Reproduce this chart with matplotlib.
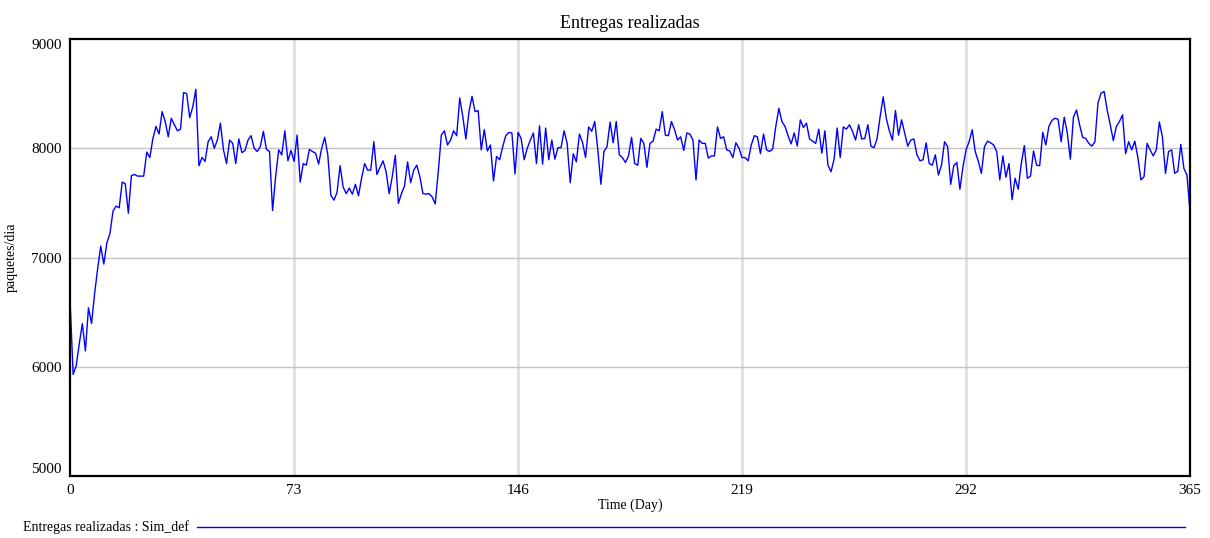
import numpy as np
import matplotlib.pyplot as plt
from matplotlib.lines import Line2D

plt.rcParams['font.family'] = ['Liberation Serif', 'DejaVu Serif']

# Entregas realizadas (paquetes/dia), one value per day
seg1 = [6610, 5930, 6010, 6210, 6395, 6145, 6540, 6395, 6670, 6900, 7105, 6940,
        7135, 7220, 7425, 7470, 7455, 7690, 7675, 7405, 7750, 7760, 7745, 7745,
        7745, 7965, 7915, 8090, 8200, 8130, 8335, 8245, 8105, 8275, 8215, 8160,
        8175, 8510, 8500, 8280, 8380, 8540, 7840, 7915, 7880, 8060]
seg2 = [8105, 8000, 8075, 8230, 7985, 7860, 8075, 8045, 7860, 8085, 7960, 7980,
        8075, 8115, 8000, 7970, 8015, 8155, 7990, 7970, 7430, 7740, 7985, 7940,
        8160, 7885, 7980, 7880, 8120, 7690, 7860, 7845, 7990, 7970, 7955, 7855,
        8000, 8100, 7940, 7570, 7525, 7595, 7840, 7645, 7585, 7635]
seg3 = [7580, 7670, 7565, 7725, 7860, 7800, 7800, 8060, 7760, 7825, 7885, 7785,
        7585, 7740, 7935, 7495, 7585, 7655, 7875, 7685, 7800, 7845, 7740, 7585,
        7580, 7585, 7555, 7490, 7785, 8120, 8160, 8030, 8075, 8160, 8115, 8460,
        8290, 8085, 8335, 8475, 8335, 8345, 7985, 8170, 7975]
seg4 = [8030, 7700, 7925, 7895, 8015, 8115, 8145, 8140, 7765, 8145, 8090, 7895,
        8000, 8075, 8140, 7860, 8205, 7855, 8185, 7895, 8075, 7900, 8005, 8005,
        8160, 8045, 7685, 7950, 7875, 8130, 8055, 7915, 8195, 8155, 8245, 7985,
        7670, 7970, 8015, 8240, 8050, 8245, 7940, 7915, 7870, 7930, 8100]
seg5 = [7860, 7845, 8090, 8045, 7825, 8045, 8065, 8175, 8160, 8335, 8120, 8115,
        8245, 8170, 8075, 8105, 7980, 8140, 8130, 8075, 7710, 8075, 8045, 8045,
        7910, 7930, 7930, 8195, 8090, 8105, 7985, 7975, 7915, 8050, 8000, 7915,
        7915, 7885, 8030, 8115, 8105, 7950, 8130, 7985, 7970]
seg6 = [7995, 8200, 8365, 8245, 8200, 8115, 8040, 8140, 8020, 8260, 8190, 8230,
        8085, 8065, 8045, 8175, 7955, 8160, 7845, 7785, 7900, 8185, 7915, 8195,
        8175, 8215, 8155, 8075, 8215, 8085, 8090, 8215, 8020, 8005, 8085, 8290,
        8470, 8275, 8160, 8075, 8345, 8120, 8260, 8140, 8020]
seg7 = [8075, 8085, 7940, 7885, 7895, 8050, 7860, 7845, 7940, 7755, 7845, 8060,
        8015, 7670, 7840, 7870, 7625, 7830, 7985, 8060, 8170, 7970, 7880, 7770,
        8015, 8065, 8050, 8030, 7970, 7710, 7930, 7735, 7860, 7530, 7725, 7625,
        7860, 8025, 7725, 7745, 7975, 7845, 7840, 8145, 8030, 8200]
seg8 = [8255, 8275, 8265, 8060, 8285, 8140, 7900, 8285, 8350, 8215, 8100, 8090,
        8045, 8020, 8060, 8415, 8505, 8520, 8350, 8215, 8070, 8200, 8245, 8305,
        7950, 8060, 7985, 8065, 7915, 7710, 7740, 8045, 7985, 7930, 7985, 8240,
        8105, 7770, 7970, 7985, 7770, 7790, 8035, 7815, 7755, 7420]

entregas = np.array(seg1 + seg2 + seg3 + seg4 + seg5 + seg6 + seg7 + seg8)
days = np.arange(len(entregas))

x_ticks = [0, 73, 146, 219, 292, 365]
y_ticks = [5000, 6000, 7000, 8000, 9000]

fig = plt.figure(figsize=(12.1, 5.38), dpi=100)
ax = fig.add_axes([0.0579, 0.1152, 0.9256, 0.8123])

ax.plot(days, entregas, color='#0000ff', linewidth=1.0)

ax.set_xlim(0, 365)
ax.set_ylim(5000, 9000)
ax.set_xticks(x_ticks)
ax.set_yticks(y_ticks)
ax.set_yticklabels([str(v) for v in y_ticks])

# grid: vertical light, horizontal gray
for v in x_ticks[1:-1]:
    ax.axvline(v, color='#dcdcdc', linewidth=1.8, zorder=0)
for v in y_ticks[1:-1]:
    ax.axhline(v, color='#c4c4c4', linewidth=1.0, zorder=0)

ax.tick_params(length=0, labelsize=11, pad=6)
labs = ax.get_yticklabels()
labs[0].set_va('bottom')
labs[-1].set_va('top')

for s in ax.spines.values():
    s.set_linewidth(1.6)
    s.set_color('black')

ax.set_title('Entregas realizadas', fontsize=13, pad=8)
ax.set_xlabel('Time (Day)', fontsize=10, labelpad=1)
ax.set_ylabel('paquetes/dia', fontsize=10)
ax.yaxis.set_label_coords(-0.047, 0.5)

# legend row at bottom
fig.text(23 / 1210, 1 - 527 / 538, 'Entregas realizadas : Sim_def', fontsize=10,
         va='center', ha='left')
fig.add_artist(Line2D([197 / 1210, 1185 / 1210], [1 - 527 / 538, 1 - 527 / 538],
                      color='#0000ff', linewidth=1.0))

fig.savefig('out.png', dpi=100)
